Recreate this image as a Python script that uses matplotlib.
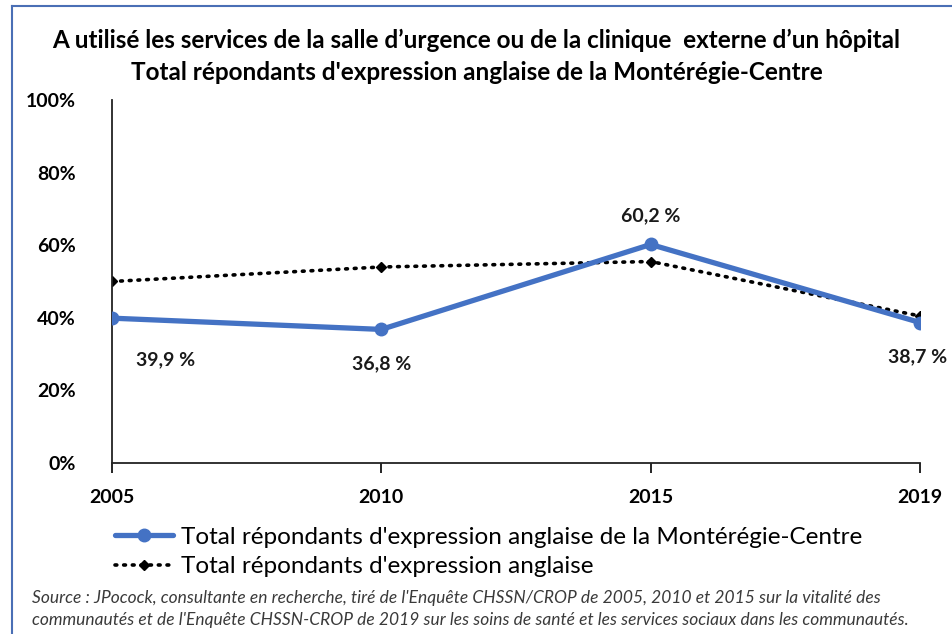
import matplotlib.pyplot as plt
from matplotlib.lines import Line2D

annees = ['2005', '2010', '2015', '2019']
monteregie = [39.9, 36.8, 60.2, 38.7]
ensemble = [50.0, 54.0, 55.5, 40.5]
etiquettes = ['39,9 %', '36,8 %', '60,2 %', '38,7 %']

bleu = '#4472C4'
plt.rcParams['font.family'] = ['Lato', 'DejaVu Sans']

fig = plt.figure(figsize=(9.53, 6.34), dpi=100)
ax = fig.add_axes([0.1175, 0.2697, 0.8479, 0.5726])

x = list(range(len(annees)))
ax.plot(x, monteregie, color=bleu, lw=3.8, marker='o', ms=9,
        solid_capstyle='round', zorder=3,
        label="Total répondants d'expression anglaise de la Montérégie-Centre")
ax.plot(x, ensemble, color='black', lw=2.6, ls=(0, (0.5, 1.9)), marker='D', ms=5,
        dash_capstyle='round', zorder=2,
        label="Total répondants d'expression anglaise")

# étiquettes de valeurs
decal = [(0.2, -11.5), (0.0, -9.5), (0.0, 8), (-0.01, -9.5)]
for i, (v, t) in enumerate(zip(monteregie, etiquettes)):
    dx, dy = decal[i]
    ax.text(i + dx, v + dy, t, ha='center', va='center', fontsize=14,
            fontweight='bold', color='#1a1a1a', zorder=4, clip_on=False)

ax.set_xlim(0, 3)
ax.set_ylim(0, 100)
ax.set_xticks(x)
ax.set_xticklabels(annees, fontsize=14, fontweight='bold')
ax.set_yticks(range(0, 101, 20))
ax.set_yticklabels([f'{v}%' for v in range(0, 101, 20)], fontsize=14, fontweight='bold')
ax.tick_params(axis='x', direction='out', length=7, width=1.2, pad=12)
ax.tick_params(axis='y', length=0, pad=26)
for s in ['top', 'right']:
    ax.spines[s].set_visible(False)
for s in ['left', 'bottom']:
    ax.spines[s].set_linewidth(1.3)
    ax.spines[s].set_color('#222222')

fig.text(0.5, 0.937, "A utilisé les services de la salle d’urgence ou de la clinique  externe d’un hôpital",
         ha='center', va='center', fontsize=17.5, fontweight='bold')
fig.text(0.5, 0.886, "Total répondants d'expression anglaise de la Montérégie-Centre",
         ha='center', va='center', fontsize=17.5, fontweight='bold')

leg = fig.legend(loc='upper left', bbox_to_anchor=(0.108, 0.188), frameon=False,
                 fontsize=17.5, handlelength=2.4, handletextpad=0.3, labelspacing=0.35,
                 borderpad=0)

fig.text(0.034, 0.057, "Source : JPocock, consultante en recherche, tiré de l'Enquête CHSSN/CROP de 2005, 2010 et 2015 sur la vitalité des",
         fontsize=12.5, style='italic', color='#3a3a3a', va='center')
fig.text(0.034, 0.022, "communautés et de l'Enquête CHSSN-CROP de 2019 sur les soins de santé et les services sociaux dans les communautés.",
         fontsize=12.5, style='italic', color='#3a3a3a', va='center')

# cadre bleu (gauche et haut)
fig.add_artist(Line2D([0.0125, 0.0125], [0, 0.99], color='#4a6fb5', lw=1.5))
fig.add_artist(Line2D([0.0125, 1.0], [0.99, 0.99], color='#4a6fb5', lw=1.5))

fig.savefig('out.png', dpi=100)
